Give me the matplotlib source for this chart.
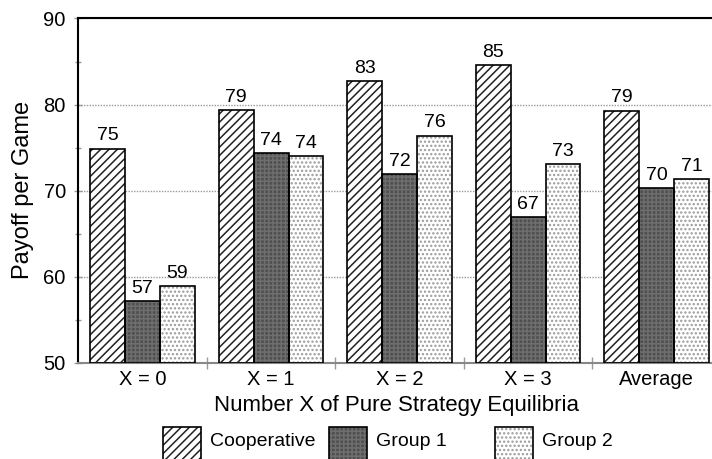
import matplotlib
matplotlib.use('Agg')
import matplotlib.pyplot as plt
import numpy as np
from matplotlib.patches import Rectangle

categories = ['X = 0', 'X = 1', 'X = 2', 'X = 3', 'Average']
series_names = ['Cooperative', 'Group 1', 'Group 2']
cooperative = [74.9, 79.4, 82.7, 84.6, 79.3]
group1 = [57.2, 74.4, 71.9, 66.9, 70.3]
group2 = [58.9, 74.0, 76.4, 73.1, 71.4]
yticks = [50, 60, 70, 80, 90]
ylabel = 'Payoff per Game'
xlabel = 'Number X of Pure Strategy Equilibria'

plt.rcParams['font.family'] = ['Liberation Sans', 'DejaVu Sans']
plt.rcParams['hatch.linewidth'] = 1.1

W, H = 712, 459
fig = plt.figure(figsize=(W / 100, H / 100), dpi=100)
ax_l, ax_r, ax_t, ax_b = 78.3, 720.8, 18.5, 363.0
ax = fig.add_axes([ax_l / W, (H - ax_b) / H, (ax_r - ax_l) / W, (ax_b - ax_t) / H])

styles = [
    dict(facecolor='white', hatch='////', hcolor='#222222'),
    dict(facecolor='#4f4f4f', hatch='++++', hcolor='#6e6e6e'),
    dict(facecolor='white', hatch='....', hcolor='#9a9a9a'),
]
series = [cooperative, group1, group2]
x = np.arange(len(categories))
bw = 0.272
for i, (vals, st) in enumerate(zip(series, styles)):
    pos = x + (i - 1) * bw
    ax.bar(pos, np.array(vals) - 50, bw, bottom=50, color=st['facecolor'],
           edgecolor=st['hcolor'], hatch=st['hatch'], linewidth=0, zorder=2)
    outline = ax.bar(pos, np.array(vals) - 50, bw, bottom=50, fill=False,
                     edgecolor='black', linewidth=1.2, zorder=3)
    ax.bar_label(outline, labels=[f'{v:.0f}' for v in vals], padding=3,
                 fontsize=14)

ax.set_xlim(-0.5, len(categories) - 0.5)
ax.set_ylim(50, 90)
ax.set_yticks(yticks)
ax.set_yticks(np.arange(55, 90, 10), minor=True)
ax.set_xticks(x)
ax.set_xticklabels(categories, fontsize=14.5)
ax.set_xticks(np.arange(0.5, len(categories) - 1, 1), minor=True)
ax.tick_params(axis='x', which='major', length=0, pad=5)
ax.tick_params(axis='x', which='minor', direction='inout', length=9,
               color='#999999', width=1)
ax.tick_params(axis='y', which='major', direction='inout', length=6,
               color='#999999', width=1, labelsize=14.5, pad=6)
ax.tick_params(axis='y', which='minor', direction='inout', length=4.5,
               color='#999999', width=1)

ax.yaxis.grid(True, which='major', color='#999999', linestyle=(0, (1, 1)),
              linewidth=1)
ax.set_axisbelow(True)

for s in ['left', 'top']:
    ax.spines[s].set_color('black')
    ax.spines[s].set_linewidth(1.5)
ax.spines['bottom'].set_color('#888888')
ax.spines['bottom'].set_linewidth(1.5)
ax.spines['right'].set_visible(False)

fig.text(23 / W, 1 - 190 / H, ylabel, fontsize=17, rotation=90,
         ha='center', va='center')
fig.text(397 / W, 1 - 406 / H, xlabel, fontsize=16, ha='center', va='center')

# manual legend
lx0, lstep, ly_top, lw_, lh_ = 163, 166, 427, 38, 35
for i, (name, st) in enumerate(zip(series_names, styles)):
    px = lx0 + i * lstep
    r = Rectangle((px / W, (H - ly_top - lh_) / H), lw_ / W, lh_ / H,
                  transform=fig.transFigure, facecolor=st['facecolor'],
                  edgecolor=st['hcolor'], hatch=st['hatch'], linewidth=0)
    fig.add_artist(r)
    r2 = Rectangle((px / W, (H - ly_top - lh_) / H), lw_ / W, lh_ / H,
                   transform=fig.transFigure, fill=False, edgecolor='black',
                   linewidth=1.2)
    fig.add_artist(r2)
    fig.text((px + lw_ + 9) / W, 1 - 441 / H, name, fontsize=14,
             ha='left', va='center')

fig.savefig('out.png', dpi=100)
